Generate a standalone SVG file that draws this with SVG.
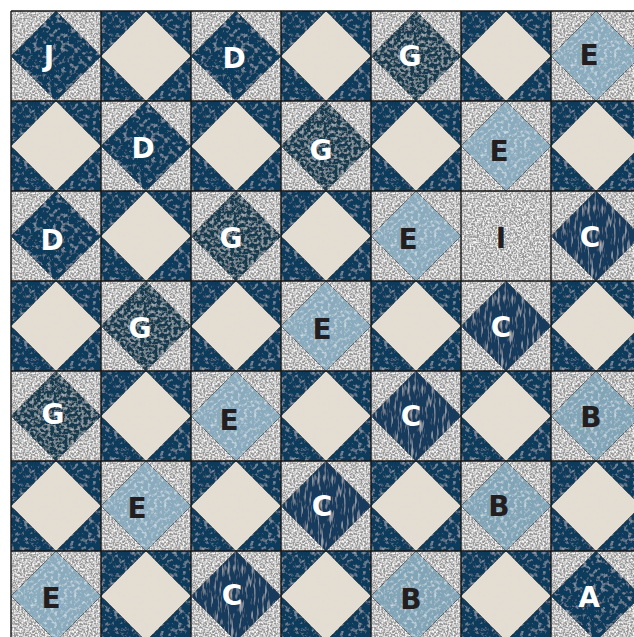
<svg xmlns="http://www.w3.org/2000/svg" xmlns:xlink="http://www.w3.org/1999/xlink" width="634" height="637" viewBox="0 0 634 637">
<defs>
<style>
.grey{fill:#979797;filter:url(#fGrey)}
.navy{fill:#113a5c;filter:url(#fNavy)}
.teal{fill:#173a4f;filter:url(#fTeal)}
.botan{fill:#123a5b;filter:url(#fBotan)}
.cream{fill:#e4ddd2;filter:url(#fCream)}
.blue{fill:#8aabbd;filter:url(#fBlue)}
.blueb{fill:#81a4b7;filter:url(#fBlue)}
.dia{stroke:#2a2a2a;stroke-width:0.8;stroke-opacity:0.7}
.lbl{font-family:"DejaVu Sans","Liberation Sans",sans-serif;font-weight:700;font-size:28px;text-anchor:middle}
.w{fill:#ffffff}
.k{fill:#231f20}
.grid{stroke:#161616;stroke-width:1.4;fill:none}
</style>
<filter id="fGrey" x="0" y="0" width="1" height="1">
<feTurbulence type="fractalNoise" baseFrequency="0.55" numOctaves="3" seed="3" result="n"/>
<feColorMatrix in="n" type="matrix" values="0 0 0 0 0.97 0 0 0 0 0.97 0 0 0 0 0.97 2.6 0 0 0 -0.95" result="w"/>
<feComposite in="w" in2="SourceAlpha" operator="in" result="wc"/>
<feMerge><feMergeNode in="SourceGraphic"/><feMergeNode in="wc"/></feMerge>
</filter>
<filter id="fNavy" x="0" y="0" width="1" height="1">
<feTurbulence type="fractalNoise" baseFrequency="0.22" numOctaves="3" seed="7" result="n"/>
<feColorMatrix in="n" type="matrix" values="0 0 0 0 0.55 0 0 0 0 0.65 0 0 0 0 0.75 1.6 0 0 0 -0.85" result="w"/>
<feComposite in="w" in2="SourceAlpha" operator="in" result="wc"/>
<feMerge><feMergeNode in="SourceGraphic"/><feMergeNode in="wc"/></feMerge>
</filter>
<filter id="fBotan" x="0" y="0" width="1" height="1">
<feTurbulence type="fractalNoise" baseFrequency="0.35 0.08" numOctaves="2" seed="13" result="n"/>
<feColorMatrix in="n" type="matrix" values="0 0 0 0 0.6 0 0 0 0 0.66 0 0 0 0 0.72 1.8 0 0 0 -0.95" result="w"/>
<feComposite in="w" in2="SourceAlpha" operator="in" result="wc"/>
<feMerge><feMergeNode in="SourceGraphic"/><feMergeNode in="wc"/></feMerge>
</filter>
<filter id="fTeal" x="0" y="0" width="1" height="1">
<feTurbulence type="fractalNoise" baseFrequency="0.3" numOctaves="3" seed="11" result="n"/>
<feColorMatrix in="n" type="matrix" values="0 0 0 0 0.5 0 0 0 0 0.58 0 0 0 0 0.62 2.0 0 0 0 -0.9" result="w"/>
<feComposite in="w" in2="SourceAlpha" operator="in" result="wc"/>
<feMerge><feMergeNode in="SourceGraphic"/><feMergeNode in="wc"/></feMerge>
</filter>
<filter id="fCream" x="0" y="0" width="1" height="1">
<feTurbulence type="fractalNoise" baseFrequency="0.25" numOctaves="2" seed="5" result="n"/>
<feColorMatrix in="n" type="matrix" values="0 0 0 0 0.74 0 0 0 0 0.72 0 0 0 0 0.68 1.8 0 0 0 -0.9" result="w"/>
<feComposite in="w" in2="SourceAlpha" operator="in" result="wc"/>
<feMerge><feMergeNode in="SourceGraphic"/><feMergeNode in="wc"/></feMerge>
</filter>
<filter id="fBlue" x="0" y="0" width="1" height="1">
<feTurbulence type="fractalNoise" baseFrequency="0.3" numOctaves="3" seed="9" result="n"/>
<feColorMatrix in="n" type="matrix" values="0 0 0 0 0.88 0 0 0 0 0.93 0 0 0 0 0.96 1.8 0 0 0 -0.9" result="w"/>
<feComposite in="w" in2="SourceAlpha" operator="in" result="wc"/>
<feMerge><feMergeNode in="SourceGraphic"/><feMergeNode in="wc"/></feMerge>
</filter>
<g id="cb"><rect class="navy" width="90" height="90"/><polygon class="cream dia" points="45,0 90,45 45,90 0,45"/></g>
<g id="kN"><rect class="grey" width="90" height="90"/><polygon class="navy dia" points="45,0 90,45 45,90 0,45"/></g>
<g id="kG"><rect class="grey" width="90" height="90"/><polygon class="teal dia" points="45,0 90,45 45,90 0,45"/></g>
<g id="kC"><rect class="grey" width="90" height="90"/><polygon class="botan dia" points="45,0 90,45 45,90 0,45"/></g>
<g id="kE"><rect class="grey" width="90" height="90"/><polygon class="blue dia" points="45,0 90,45 45,90 0,45"/></g>
<g id="kB"><rect class="grey" width="90" height="90"/><polygon class="blueb dia" points="45,0 90,45 45,90 0,45"/></g>
<g id="kI"><rect class="grey" width="90" height="90"/></g>
</defs>
<rect width="634" height="637" fill="#ffffff"/>
<g id="row0">
<g id="b0-0"><use href="#kN" x="11" y="11"/><text class="lbl w" x="49" y="65.5">J</text></g>
<g id="b0-1"><use href="#cb" x="101" y="11"/></g>
<g id="b0-2"><use href="#kN" x="191" y="11"/><text class="lbl w" x="234" y="67.5">D</text></g>
<g id="b0-3"><use href="#cb" x="281" y="11"/></g>
<g id="b0-4"><use href="#kG" x="371" y="11"/><text class="lbl w" x="410" y="65.5">G</text></g>
<g id="b0-5"><use href="#cb" x="461" y="11"/></g>
<g id="b0-6"><use href="#kE" x="551" y="11"/><text class="lbl k" x="589" y="64.5">E</text></g>
</g>
<g id="row1">
<g id="b1-0"><use href="#cb" x="11" y="101"/></g>
<g id="b1-1"><use href="#kN" x="101" y="101"/><text class="lbl w" x="143" y="157.5">D</text></g>
<g id="b1-2"><use href="#cb" x="191" y="101"/></g>
<g id="b1-3"><use href="#kG" x="281" y="101"/><text class="lbl w" x="321" y="159.5">G</text></g>
<g id="b1-4"><use href="#cb" x="371" y="101"/></g>
<g id="b1-5"><use href="#kE" x="461" y="101"/><text class="lbl k" x="499" y="160.5">E</text></g>
<g id="b1-6"><use href="#cb" x="551" y="101"/></g>
</g>
<g id="row2">
<g id="b2-0"><use href="#kN" x="11" y="191"/><text class="lbl w" x="52" y="249.5">D</text></g>
<g id="b2-1"><use href="#cb" x="101" y="191"/></g>
<g id="b2-2"><use href="#kG" x="191" y="191"/><text class="lbl w" x="231" y="247.5">G</text></g>
<g id="b2-3"><use href="#cb" x="281" y="191"/></g>
<g id="b2-4"><use href="#kE" x="371" y="191"/><text class="lbl k" x="408" y="248.5">E</text></g>
<g id="b2-5"><use href="#kI" x="461" y="191"/><text class="lbl k" x="501" y="247.5">I</text></g>
<g id="b2-6"><use href="#kC" x="551" y="191"/><text class="lbl w" x="590" y="246.5">C</text></g>
</g>
<g id="row3">
<g id="b3-0"><use href="#cb" x="11" y="281"/></g>
<g id="b3-1"><use href="#kG" x="101" y="281"/><text class="lbl w" x="140" y="337.5">G</text></g>
<g id="b3-2"><use href="#cb" x="191" y="281"/></g>
<g id="b3-3"><use href="#kE" x="281" y="281"/><text class="lbl k" x="322" y="338.5">E</text></g>
<g id="b3-4"><use href="#cb" x="371" y="281"/></g>
<g id="b3-5"><use href="#kC" x="461" y="281"/><text class="lbl w" x="501" y="336.5">C</text></g>
<g id="b3-6"><use href="#cb" x="551" y="281"/></g>
</g>
<g id="row4">
<g id="b4-0"><use href="#kG" x="11" y="371"/><text class="lbl w" x="53" y="423.5">G</text></g>
<g id="b4-1"><use href="#cb" x="101" y="371"/></g>
<g id="b4-2"><use href="#kE" x="191" y="371"/><text class="lbl k" x="229" y="429.5">E</text></g>
<g id="b4-3"><use href="#cb" x="281" y="371"/></g>
<g id="b4-4"><use href="#kC" x="371" y="371"/><text class="lbl w" x="411" y="425.5">C</text></g>
<g id="b4-5"><use href="#cb" x="461" y="371"/></g>
<g id="b4-6"><use href="#kB" x="551" y="371"/><text class="lbl k" x="591" y="426.5">B</text></g>
</g>
<g id="row5">
<g id="b5-0"><use href="#cb" x="11" y="461"/></g>
<g id="b5-1"><use href="#kE" x="101" y="461"/><text class="lbl k" x="137" y="517.5">E</text></g>
<g id="b5-2"><use href="#cb" x="191" y="461"/></g>
<g id="b5-3"><use href="#kC" x="281" y="461"/><text class="lbl w" x="322" y="515.5">C</text></g>
<g id="b5-4"><use href="#cb" x="371" y="461"/></g>
<g id="b5-5"><use href="#kB" x="461" y="461"/><text class="lbl k" x="499" y="515.5">B</text></g>
<g id="b5-6"><use href="#cb" x="551" y="461"/></g>
</g>
<g id="row6">
<g id="b6-0"><use href="#kE" x="11" y="551"/><text class="lbl k" x="51" y="607.5">E</text></g>
<g id="b6-1"><use href="#cb" x="101" y="551"/></g>
<g id="b6-2"><use href="#kC" x="191" y="551"/><text class="lbl w" x="232" y="604.5">C</text></g>
<g id="b6-3"><use href="#cb" x="281" y="551"/></g>
<g id="b6-4"><use href="#kB" x="371" y="551"/><text class="lbl k" x="411" y="608.5">B</text></g>
<g id="b6-5"><use href="#cb" x="461" y="551"/></g>
<g id="b6-6"><use href="#kN" x="551" y="551"/><text class="lbl w" x="589" y="606.5">A</text></g>
</g>
<g id="seams">
<path class="grid" d="M11,11V637M101,11V637M191,11V637M281,11V637M371,11V637M461,11V637M551,11V637M11,11H634M11,101H634M11,191H634M11,281H634M11,371H634M11,461H634M11,551H634"/>
</g>
</svg>
